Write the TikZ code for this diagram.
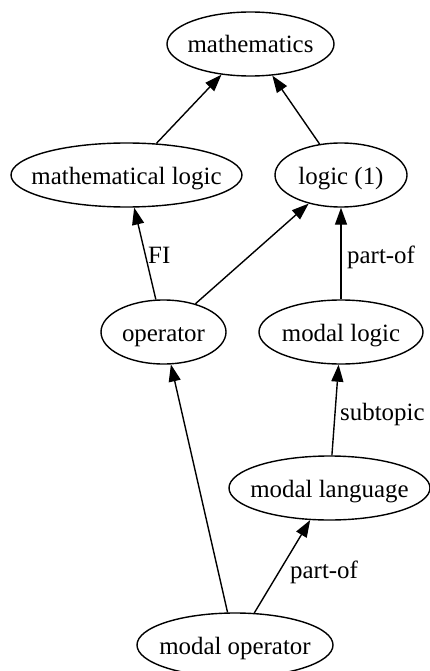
\documentclass[tikz,border=0pt]{standalone}
\usepackage{fontspec}
\setmainfont{Liberation Serif}
\usetikzlibrary{shapes.geometric}
\usetikzlibrary{arrows.meta}

\newcommand{\tname}[1]{\makebox[0pt]{#1}}

\begin{document}
\begin{tikzpicture}[x=1pt,y=-1pt,
  topic/.style={draw,ellipse,line width=1.4pt,inner sep=0pt,minimum height=64pt,
    text height=18pt,text depth=0pt,font=\fontsize{24.9}{30}\selectfont},
  rel/.style={line width=1.4pt,-{Triangle[length=17pt,width=12pt]}},
  lbl/.style={inner sep=0pt,anchor=base west,font=\fontsize{24.9}{30}\selectfont}]
\useasboundingbox (0,0) rectangle (430,671);

\node[topic,minimum width=167pt] (math) at (250.5,44) {\tname{mathematics}};
\node[topic,minimum width=231pt] (mlog) at (126.5,175) {\tname{mathematical logic}};
\node[topic,minimum width=132pt] (log1) at (341,175) {\tname{logic (1)}};
\node[topic,minimum width=125pt] (op) at (163.5,332) {\tname{operator}};
\node[topic,minimum width=164pt] (modlog) at (341,332) {\tname{modal logic}};
\node[topic,minimum width=201pt] (modlang) at (329.5,488) {\tname{modal language}};
\node[topic,minimum width=196pt] (modop) at (235,645) {\tname{modal operator}};

\draw[rel] (mlog) -- (math);
\draw[rel] (log1) -- (math);
\draw[rel] (op) -- (mlog);
\draw[rel] (op) -- (log1);
\draw[rel] (modlog) -- (log1);
\draw[rel] (modlang) -- (modlog);
\draw[rel] (modop) -- (op);
\draw[rel] (modop) -- (modlang);

\node[lbl] (fi) at (148,263) {FI};
\node[lbl] (partof1) at (347,263) {part-of};
\node[lbl] (subtop) at (340,420) {subtopic};
\node[lbl] (partof2) at (290,578) {part-of};
\end{tikzpicture}
\end{document}
